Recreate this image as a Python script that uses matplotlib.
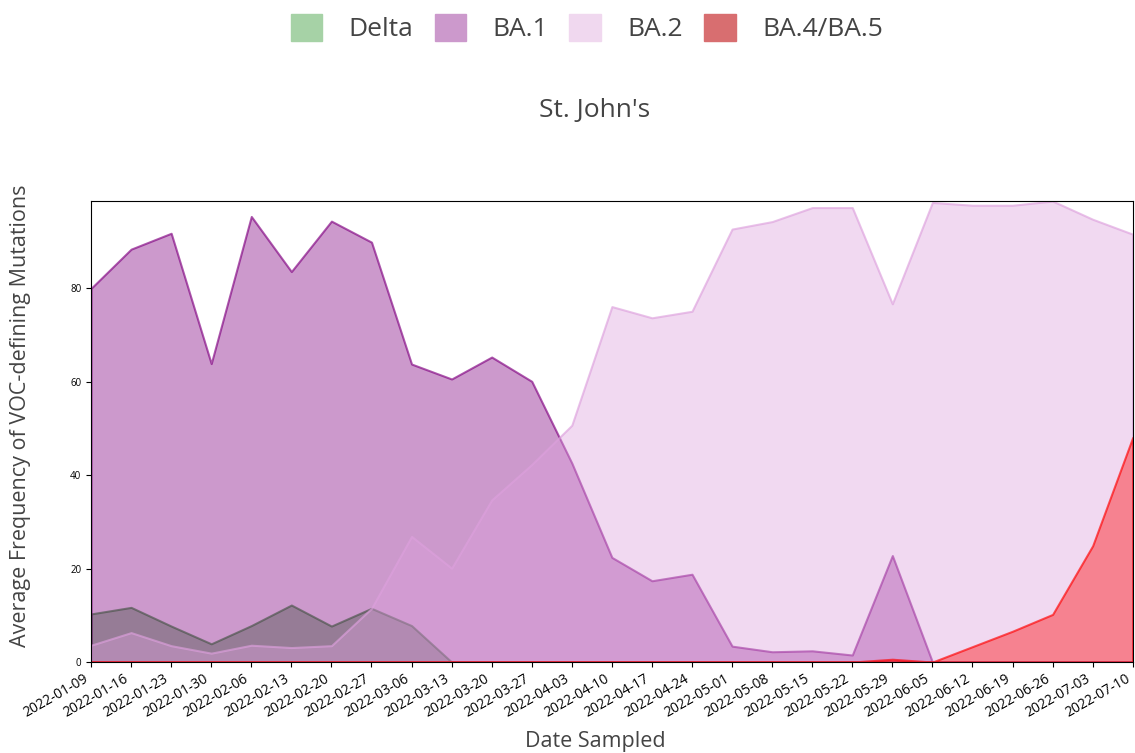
import matplotlib
matplotlib.use("Agg")
import matplotlib.pyplot as plt
import matplotlib.patches as mpatches
from matplotlib.colors import to_rgb
import pandas as pd

plt.rcParams['font.family'] = ['Open Sans', 'DejaVu Sans']

dates = pd.date_range("2022-01-09", "2022-07-10", freq="7D")

delta = [10.3, 11.7, 7.7, 3.9, 7.8, 12.2, 7.7, 11.5, 7.8, 0, 0, 0, 0, 0,
         0, 0, 0, 0, 0, 0, 0, 0, 0, 0, 0, 0, 0]
ba1 = [80.0, 88.4, 91.8, 63.9, 95.4, 83.6, 94.4, 89.9, 63.8, 60.6, 65.3, 60.1,
       42.6, 22.4, 17.4, 18.8, 3.4, 2.2, 2.4, 1.5, 22.8, 0, 0, 0, 0, 0, 0]
ba2 = [3.6, 6.3, 3.5, 1.9, 3.6, 3.1, 3.5, 11.5, 26.9, 20.1, 34.7, 42.3,
       50.7, 76.1, 73.7, 75.1, 92.7, 94.3, 97.3, 97.3, 76.7, 98.4, 97.8,
       97.8, 98.7, 94.8, 91.6]
ba45 = [0, 0, 0, 0, 0, 0, 0, 0, 0, 0, 0, 0, 0, 0, 0, 0, 0, 0, 0, 0, 0.6, 0,
        3.3, 6.6, 10.2, 24.9, 48.1]

names = ["Delta", "BA.1", "BA.2", "BA.4/BA.5"]
fill_colors = ["forestgreen", "purple", "plum", "red"]
legend_colors = ["#a6d2a6", "#cc99cc", "#f0d8ef", "#d86e70"]

fig = plt.figure(figsize=(11.35, 7.53), dpi=100)
ax = fig.add_axes([0.0802, 0.1208, 0.9178, 0.6122])

for vals, c in zip([delta, ba1, ba2, ba45], fill_colors):
    rgb = to_rgb(c)
    ax.fill_between(dates, 0, vals, facecolor=(*rgb, 0.4),
                    edgecolor=(*rgb, 0.65), linewidth=1.5)

ax.set_xlim(dates[0], dates[-1])
ax.set_ylim(0, max(ba2))
ax.set_xticks(dates)
ax.set_xticklabels([d.strftime("%Y-%m-%d") for d in dates], rotation=30,
                   ha="right", fontsize=10)
ax.tick_params(axis="y", labelsize=7)

# axis titles and heading placed where the reference has them
fig.text(595 / 1135, 1 - 742 / 753, "Date Sampled", ha="center", va="center",
         fontsize=15.5, color="#444444")
fig.text(21 / 1135, 1 - 416 / 753, "Average Frequency of VOC-defining Mutations",
         ha="center", va="center", rotation=90, fontsize=15.5, color="#444444")
fig.text(595 / 1135, 1 - 110 / 753, "St. John's", ha="center", va="center",
         fontsize=19, color="#444444")

handles = [mpatches.Patch(color=c, label=n) for n, c in zip(names, legend_colors)]
fig.legend(handles=handles, loc="center", bbox_to_anchor=(587 / 1135, 1 - 28 / 753),
           ncol=4, frameon=False, fontsize=19, labelcolor="#444444",
           handlelength=1.2, handleheight=1.2, handletextpad=1.0,
           columnspacing=0.8)

fig.savefig("out.png", dpi=100)
